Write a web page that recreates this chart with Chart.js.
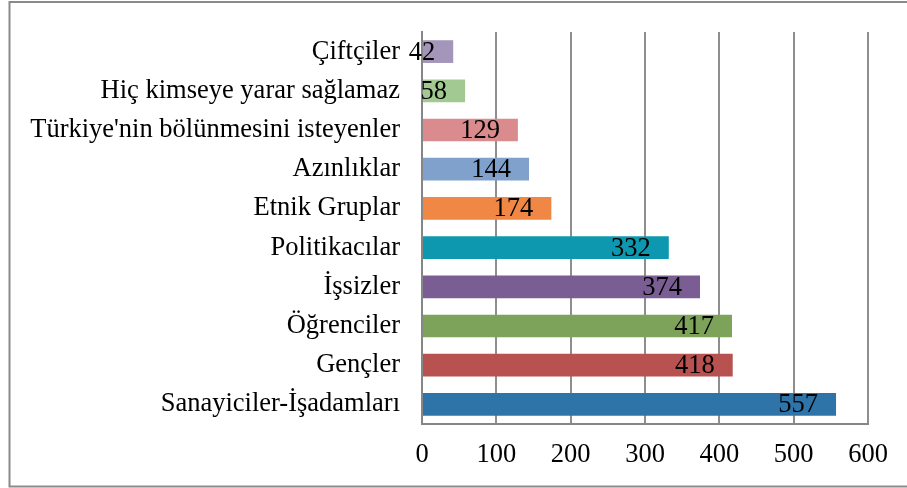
<!DOCTYPE html>
<html>
<head>
<meta charset="utf-8">
<script src="https://cdn.jsdelivr.net/npm/chart.js@4.4.1/dist/chart.umd.min.js"></script>
<style>
html,body{margin:0;padding:0;background:#fff;}
#wrap{position:relative;width:907px;height:488px;}
</style>
</head>
<body>
<div id="wrap"><canvas id="c" width="907" height="488"></canvas></div>
<script>
const categories = ["Çiftçiler","Hiç kimseye yarar sağlamaz","Türkiye'nin bölünmesini isteyenler","Azınlıklar","Etnik Gruplar","Politikacılar","İşsizler","Öğrenciler","Gençler","Sanayiciler-İşadamları"];
const values = [42,58,129,144,174,332,374,417,418,557];
const barColors = ["#A495BA","#A2C991","#D98B8E","#7FA1CB","#F08745","#0E98AF","#7A5E93","#7DA35A","#B85250","#2E74A8"];
const xTicks = [0,100,200,300,400,500,600];

const FONT = "'Liberation Serif','Times New Roman',serif";

const frame = {
  id:'frame',
  beforeDraw(chart){
    const ctx = chart.ctx;
    ctx.save();
    ctx.fillStyle='#fff';
    ctx.fillRect(0,0,chart.width,chart.height);
    ctx.strokeStyle='#8a8a8a';
    ctx.lineWidth=2;
    ctx.strokeRect(9.5,2,960,484.5);
    ctx.restore();
  }
};
const valueLabels = {
  id:'valueLabels',
  afterDatasetsDraw(chart){
    const ctx = chart.ctx;
    const meta = chart.getDatasetMeta(0);
    ctx.save();
    ctx.font = "26.5px " + FONT;
    ctx.fillStyle = '#000';
    ctx.textAlign = 'right';
    ctx.textBaseline = 'middle';
    meta.data.forEach((bar,i)=>{
      ctx.fillText(String(values[i]), bar.x - 18, bar.y + 1);
    });
    ctx.restore();
  }
};

new Chart(document.getElementById('c'), {
  type:'bar',
  data:{
    labels:categories,
    datasets:[{
      data:values,
      backgroundColor:barColors,
      borderWidth:0,
      categoryPercentage:1,
      barPercentage:0.58
    }]
  },
  options:{
    indexAxis:'y',
    responsive:false,
    animation:false,
    devicePixelRatio:1,
    layout:{padding:{top:32,right:39,left:0,bottom:0}},
    plugins:{legend:{display:false},tooltip:{enabled:false}},
    scales:{
      x:{
        min:0,max:600,
        afterBuildTicks(s){ s.ticks = xTicks.map(v=>({value:v})); },
        afterFit(s){ s.height = 64; s.paddingLeft = 0; s.paddingRight = 0; },
        grid:{color:'#8e8e8e',lineWidth:2,drawTicks:false},
        border:{display:true,color:'#868686',width:2},
        ticks:{color:'#000',font:{family:FONT,size:26.5},padding:15}
      },
      y:{
        afterFit(s){ s.width = 422; s.paddingTop = 0; s.paddingBottom = 0; },
        grid:{display:false,drawTicks:false},
        border:{display:true,color:'#868686',width:2},
        ticks:{color:'#000',font:{family:FONT,size:26.5},padding:22,autoSkip:false}
      }
    }
  },
  plugins:[frame,valueLabels]
});
</script>
</body>
</html>
